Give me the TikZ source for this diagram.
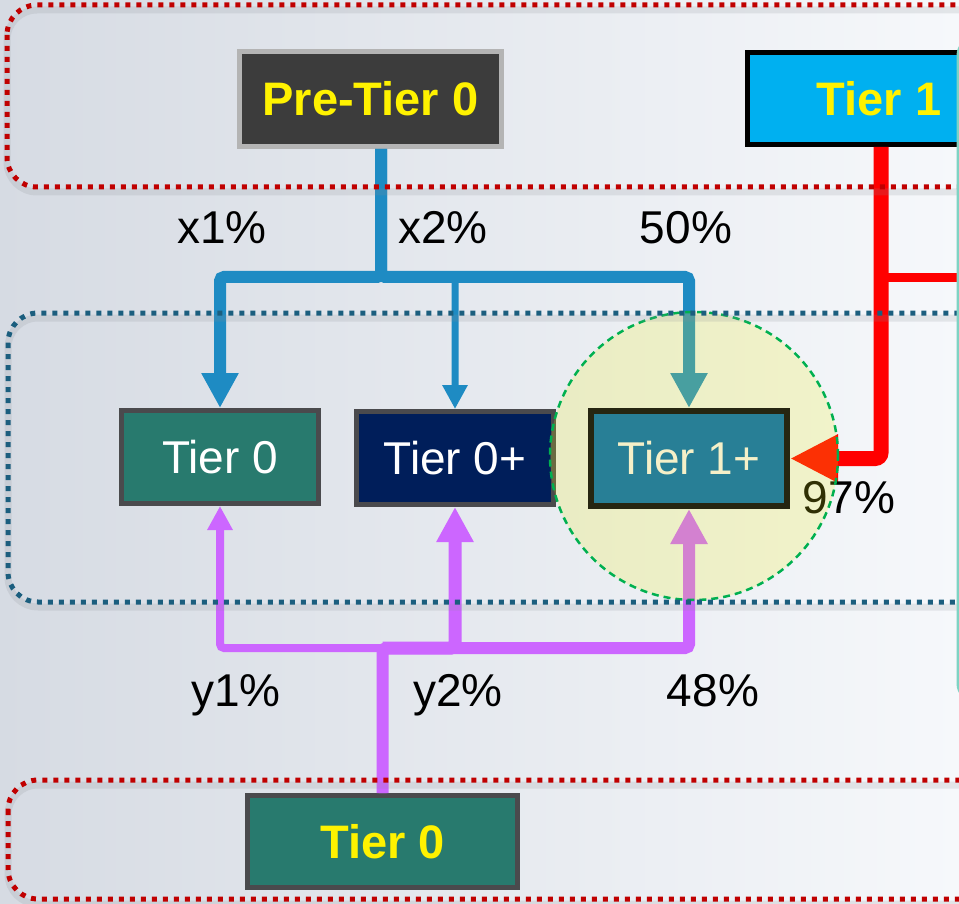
\documentclass[tikz,border=0pt]{standalone}
\usepackage{fontspec}
\setmainfont{Liberation Sans}
\usetikzlibrary{arrows.meta}
\pgfdeclarelayer{bgl}
\pgfdeclarelayer{conn}
\pgfdeclarelayer{circ}
\pgfdeclarelayer{frames}
\pgfdeclarelayer{front}
\pgfsetlayers{bgl,main,conn,circ,frames,front}
\definecolor{bgleft}{HTML}{D6DBE3}
\definecolor{bgmid}{HTML}{EBEFF5}
\definecolor{bgright}{HTML}{F6F8FB}
\definecolor{framered}{HTML}{C00000}
\definecolor{frameblue}{HTML}{1B5E7E}
\definecolor{tealgreen}{HTML}{287A6E}
\definecolor{navy}{HTML}{001E5A}
\definecolor{darkbox}{HTML}{3C3C3C}
\definecolor{graybord}{HTML}{B4B4B4}
\definecolor{boxbord}{HTML}{4A4A4D}
\definecolor{skyblue}{HTML}{00B0F0}
\definecolor{tierplus}{HTML}{287F96}
\definecolor{tierplusbord}{HTML}{262611}
\definecolor{cream}{HTML}{F5F0C8}
\definecolor{connblue}{HTML}{1E8BC3}
\definecolor{connpurple}{HTML}{CC66FF}
\definecolor{connred}{HTML}{FF0000}
\definecolor{circfill}{HTML}{F0F014}
\definecolor{circgreen}{HTML}{00B050}
\definecolor{panelbord}{HTML}{7ED3C3}
\definecolor{panelfill}{HTML}{F2F6FA}
\definecolor{shadowgray}{HTML}{8A8F96}
\begin{document}
\begin{tikzpicture}[x=1pt,y=-1pt,
  tierbox/.style={draw=boxbord, line width=5pt, inner sep=0pt,
    minimum width=197pt, minimum height=93pt,
    font=\fontsize{46}{50}\selectfont, text=white},
  topbox/.style={line width=5pt, inner sep=0pt,
    font=\fontsize{47}{50}\selectfont\bfseries, text=yellow},
  lbl/.style={inner sep=0pt, anchor=base, font=\fontsize{46}{50}\selectfont, text=black},
  bconn/.style={draw=connblue, rounded corners=4pt},
  pconn/.style={draw=connpurple, rounded corners=4pt},
  rconn/.style={draw=connred, rounded corners=6pt},
  redframe/.style={draw=framered, line width=5pt, dash pattern=on 5pt off 6pt, rounded corners=30pt},
  blueframe/.style={draw=frameblue, line width=5pt, dash pattern=on 5pt off 6pt, rounded corners=30pt},
  frameshadow/.style={draw=shadowgray, line width=7pt, opacity=0.18, rounded corners=30pt},
  bigtip/.style={-{Triangle[width=35pt,length=35pt]}},
  smalltip/.style={-{Triangle[width=24pt,length=24pt]}}
]
\useasboundingbox (0,0) rectangle (959,904);
\clip (0,0) rectangle (959,904);

\begin{pgfonlayer}{bgl}
  \shade[left color=bgleft, middle color=bgmid, right color=bgright] (0,0) rectangle (959,904);
\end{pgfonlayer}

% boxes
\node[topbox, draw=graybord, fill=darkbox, minimum width=262pt, minimum height=95pt] (pre) at (370.5,99) {Pre-Tier 0};
\node[topbox, draw=black, fill=skyblue, minimum width=267pt, minimum height=92pt] (t1) at (881,98.5) {\hspace*{-4pt}Tier 1};
\node[tierbox, fill=tealgreen] (t0) at (220,457) {Tier 0};
\node[tierbox, fill=navy] (t0p) at (455,458) {Tier 0+};
\node[topbox, draw=boxbord, fill=tealgreen, minimum width=270pt, minimum height=92pt] (b0) at (382.5,841.5) {Tier 0};

\begin{pgfonlayer}{front}
  \node[tierbox, draw=tierplusbord, line width=6pt, fill=tierplus, text=cream, minimum width=196pt, minimum height=95pt] (t1p) at (689,458.5) {Tier 1+};
\end{pgfonlayer}

\begin{pgfonlayer}{frames}
  \node[draw=panelbord, fill=panelfill, line width=3pt, rounded corners=18pt, inner sep=0pt,
        anchor=north west, minimum width=200pt, minimum height=664pt] (panel) at (956.5,36) {};
\end{pgfonlayer}

\begin{pgfonlayer}{conn}
  % blue tree from Pre-Tier 0
  \path (pre.south) ++(10.5,128) coordinate (bt);
  \draw[bconn, line width=12pt, bigtip] (pre.south -| bt) -- (bt) -| (t0.north);
  \draw[bconn, line width=12pt, bigtip] (pre.south -| bt) -- (bt) -| (t1p.north);
  \draw[bconn, line width=7pt, smalltip] (bt) -| (t0p.north);

  % purple tree from bottom Tier 0
  \path (b0.north) ++(0,-145) coordinate (pt);
  \draw[pconn, line width=8pt, smalltip] (b0.north) -- (pt) -| (t0.south);
  \draw[pconn, line width=12pt, bigtip] (b0.north) -- (pt) -| (t1p.south);
  \draw[pconn, line width=13pt, bigtip] (pt) -| (t0p.south);
  \draw[draw=connpurple, line width=10pt] (b0.north) -- (pt);

  % red from Tier 1
  \path (t1.south) ++(0,131) coordinate (rb);
  \draw[draw=connred, line width=9pt] (rb) -- (rb -| panel.west);
  \draw[rconn, line width=15pt, -{Triangle[width=45pt,length=48pt]}] (t1.south) |- (t1p.east);

  % labels
  \node[lbl] (lx1) at (222,244) {x1\%};
  \node[lbl] (lx2) at (443,244) {x2\%};
  \node[lbl] (l50) at (686,244) {50\%};
  \node[lbl] (l97) at (849,513) {97\%};
  \node[lbl] (ly1) at (236,706) {y1\%};
  \node[lbl] (ly2) at (458,706) {y2\%};
  \node[lbl] (l48) at (713,706) {48\%};
\end{pgfonlayer}

\begin{pgfonlayer}{circ}
  \fill[circfill, opacity=0.2] (694,456) circle[radius=144pt];
  \draw[circgreen, line width=2.5pt, dash pattern=on 7pt off 5pt] (694,456) circle[radius=144pt];
  % soft shadows of the dotted group frames
  \draw[frameshadow] (7,10) rectangle (1010,192);
  \draw[frameshadow] (8,318) rectangle (1010,607);
  \draw[frameshadow] (8,785) rectangle (1010,904);
  % dotted group frames
  \draw[redframe] (7,5) rectangle (1010,187);
  \draw[blueframe] (8,313) rectangle (1010,602);
  \draw[redframe] (8,780) rectangle (1010,899);
\end{pgfonlayer}
\end{tikzpicture}
\end{document}
